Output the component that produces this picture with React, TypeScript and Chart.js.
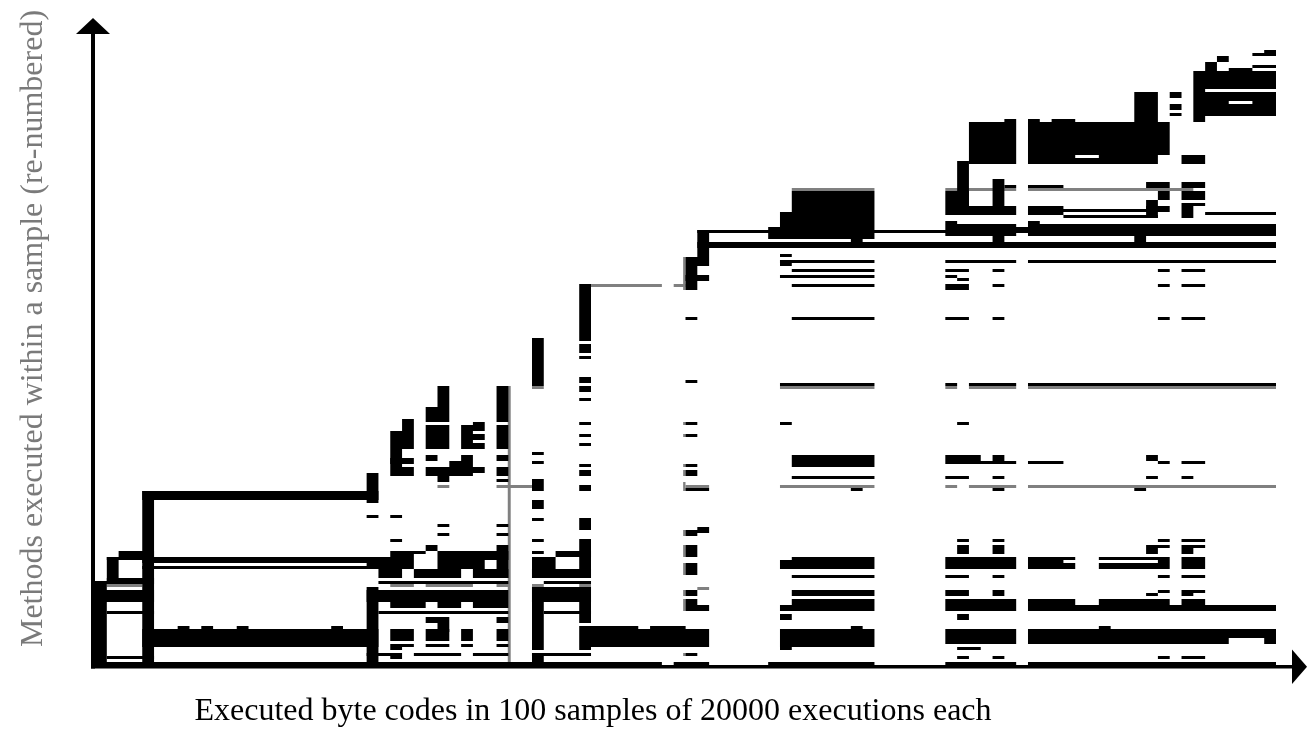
import React, { useEffect, useRef } from 'react';
import { Chart, registerables } from 'chart.js';

Chart.register(...registerables);

// Axis extents: 100 samples (x) and the re-numbered method indices (y).
const SAMPLE_COUNT = 100;
const METHOD_COUNT = 221;

const X_TITLE = 'Executed byte codes in 100 samples of 20000 executions each';
const Y_TITLE = 'Methods executed within a sample (re-numbered)';

// Each entry: [firstSample, endSample, firstMethod, endMethod) - methods executed in those samples.
const executedEarly: number[][] = [
  [0, 1, 0, 28], [1, 2, 28, 36], [1, 5, 35, 36], [2, 5, 36, 38], [0, 5, 27, 28], [1, 5, 28, 29], [0, 5, 21, 25],
  [1, 5, 17, 18], [1, 5, 2, 3],
  [0, 48, 0, 1],
  [4, 5, 1, 58], [4, 24, 55, 58], [23, 24, 54, 64], [4, 24, 34, 36], [4, 24, 32, 33],
  [4, 24, 6, 12], [7, 8, 12, 13], [9, 10, 12, 13], [12, 13, 12, 13], [20, 21, 12, 13],
  [23, 24, 1, 26],
];

const executedCluster: number[][] = [
  [26, 27, 78, 82], [25, 27, 72, 78], [25, 26, 66, 72], [25, 27, 67, 69], [25, 27, 63, 66],
  [29, 30, 86, 93], [28, 30, 81, 86], [28, 30, 72, 80], [28, 29, 68, 70], [28, 33, 64, 66], [28, 32, 63, 64],
  [29, 30, 61, 63], [30, 32, 66, 68], [31, 32, 68, 70],
  [31, 33, 78, 80], [32, 33, 80, 81], [31, 33, 75, 77], [31, 33, 72, 74], [31, 32, 74, 75], [31, 32, 77, 78],
  [34, 35, 81, 93], [34, 35, 72, 80], [34, 35, 68, 70], [34, 35, 63, 66], [34, 35, 61, 62],
  [23, 24, 49, 50], [25, 26, 49, 50], [29, 30, 46, 47], [34, 35, 46, 47], [29, 30, 43, 44], [34, 35, 43, 44],
  [25, 26, 41, 42], [26, 28, 37, 38], [28, 29, 38, 40],
  [34, 35, 29, 40], [25, 27, 36, 38], [23, 27, 32, 36], [29, 33, 32, 35], [29, 35, 35, 38],
  [24, 26, 29, 32], [27, 31, 29, 32], [32, 35, 29, 32], [24, 35, 27, 28],
  [23, 35, 21, 25], [25, 28, 19, 21], [29, 31, 19, 21], [32, 35, 19, 21], [24, 35, 17, 18],
  [28, 30, 14, 16], [29, 30, 11, 14], [34, 35, 14, 16],
  [25, 27, 8, 12], [28, 30, 8, 12], [31, 32, 8, 12], [34, 35, 8, 12],
  [25, 27, 6, 7], [28, 30, 6, 7], [31, 32, 6, 7], [34, 35, 6, 7], [25, 26, 5, 6],
  [23, 26, 3, 4], [27, 31, 3, 4], [32, 35, 3, 4], [25, 26, 2, 3],
  [37, 38, 93, 109], [37, 38, 70, 71], [37, 38, 67, 68], [37, 38, 61, 62], [37, 38, 58, 61], [37, 38, 52, 55],
  [37, 38, 48, 49], [37, 38, 41, 42], [37, 38, 37, 38], [37, 38, 29, 36], [37, 38, 5, 26], [37, 38, 1, 4],
  [39, 42, 36, 38], [37, 39, 32, 36], [37, 42, 29, 32], [38, 42, 27, 28], [37, 42, 21, 26], [38, 42, 17, 18], [37, 42, 3, 4],
  [41, 42, 108, 127], [41, 42, 104, 107], [41, 42, 102, 103], [41, 42, 94, 96], [41, 42, 91, 93], [41, 42, 88, 89],
  [41, 42, 80, 81], [41, 42, 76, 77], [41, 42, 73, 74], [41, 42, 66, 67], [41, 42, 63, 65], [41, 42, 58, 60],
  [41, 42, 45, 49], [41, 42, 29, 42], [41, 42, 14, 26], [41, 42, 5, 6],
  [41, 52, 6, 12], [41, 46, 12, 13], [47, 50, 12, 13],
];

const executedMiddle: number[][] = [
  [49, 52, 0, 1],
  [50, 51, 80, 81], [50, 51, 76, 77], [50, 51, 66, 67], [50, 51, 63, 65], [50, 52, 58, 59],
  [50, 52, 44, 45], [50, 51, 43, 44], [51, 52, 45, 46],
  [50, 51, 37, 40], [50, 51, 36, 37], [50, 51, 30, 34], [50, 51, 23, 25], [50, 52, 18, 20], [50, 51, 20, 22], [50, 51, 3, 4],
  [51, 52, 136, 145], [50, 52, 133, 136], [50, 51, 125, 133], [50, 52, 128, 130], [50, 51, 115, 116], [50, 51, 94, 95],
  [51, 100, 139, 141], [51, 100, 144, 145],
  [58, 66, 146, 151], [59, 66, 151, 158], [57, 66, 142, 146], [64, 65, 140, 142], [58, 59, 136, 137], [58, 59, 133, 134],
  [58, 66, 134, 135], [59, 66, 131, 132], [58, 66, 129, 130], [59, 66, 126, 127], [59, 66, 115, 116], [58, 66, 93, 94],
  [58, 59, 80, 81], [59, 66, 66, 70], [59, 66, 62, 63], [64, 65, 58, 59],
  [58, 66, 32, 35], [59, 66, 35, 36], [59, 66, 29, 30], [59, 66, 23, 25], [58, 66, 18, 20], [59, 66, 20, 22], [58, 59, 15, 17],
  [58, 66, 6, 12], [64, 65, 12, 13], [58, 59, 5, 6], [57, 66, 0, 1],
];

const executedLate: number[][] = [
  [74, 78, 167, 181], [77, 78, 181, 182], [73, 74, 153, 168], [72, 74, 153, 158], [72, 78, 150, 153], [76, 77, 153, 162],
  [77, 78, 159, 160], [72, 73, 147, 148], [72, 78, 143, 147], [76, 77, 141, 143], [77, 79, 145, 146],
  [72, 78, 134, 135], [72, 74, 131, 132], [76, 77, 131, 132], [72, 73, 129, 130], [73, 74, 128, 129], [72, 74, 125, 127],
  [76, 77, 126, 127], [72, 74, 115, 116], [76, 77, 115, 116],
  [72, 73, 93, 94], [74, 78, 93, 94], [73, 74, 80, 81],
  [72, 78, 67, 68], [72, 75, 68, 70], [76, 77, 68, 70], [72, 74, 62, 63], [76, 77, 62, 63], [76, 77, 58, 59],
  [73, 74, 41, 42], [76, 77, 41, 42], [73, 74, 37, 40], [76, 77, 37, 40], [72, 78, 32, 36], [72, 74, 29, 30], [76, 77, 29, 30],
  [72, 74, 23, 25], [76, 77, 23, 25], [72, 78, 18, 22], [73, 74, 15, 17], [72, 78, 7, 12], [73, 75, 5, 6],
  [73, 74, 2, 3], [76, 77, 2, 3], [72, 78, 0, 1],
  [79, 80, 181, 182], [81, 83, 181, 182], [79, 91, 170, 181], [79, 90, 167, 169], [79, 83, 169, 170], [85, 90, 169, 170],
  [88, 90, 181, 191], [91, 92, 189, 191], [91, 92, 185, 187], [91, 92, 183, 184], [92, 94, 167, 170],
  [98, 100, 203, 204], [99, 100, 204, 205], [98, 100, 199, 200], [96, 98, 198, 199], [94, 95, 198, 201], [95, 96, 201, 203],
  [93, 100, 192, 198], [93, 94, 191, 192], [93, 100, 188, 191], [93, 96, 187, 188], [98, 100, 187, 188], [93, 100, 184, 187],
  [93, 100, 183, 184], [93, 94, 181, 183],
  [79, 82, 159, 160], [89, 91, 159, 161], [92, 94, 159, 161], [90, 91, 155, 158], [92, 94, 155, 158], [92, 94, 153, 154],
  [89, 90, 149, 155], [89, 91, 151, 153], [92, 93, 149, 153],
  [79, 82, 150, 153], [79, 90, 151, 152], [82, 90, 149, 150], [94, 100, 150, 151],
  [79, 80, 147, 148], [79, 100, 143, 147], [88, 89, 141, 143],
  [79, 100, 134, 135], [90, 91, 131, 132], [92, 94, 131, 132], [90, 91, 126, 127], [92, 94, 126, 127], [90, 91, 115, 116], [92, 94, 115, 116],
  [79, 100, 93, 94],
  [79, 82, 67, 68], [89, 90, 68, 70], [90, 91, 67, 68], [92, 94, 67, 68], [89, 90, 62, 63], [92, 93, 62, 63], [88, 89, 58, 59],
  [90, 91, 41, 42], [92, 94, 41, 42], [89, 91, 39, 40], [89, 90, 37, 39], [92, 94, 39, 40], [92, 93, 37, 39],
  [79, 83, 32, 34], [79, 82, 34, 35], [79, 83, 35, 36], [85, 91, 32, 34], [85, 91, 35, 36], [90, 91, 34, 35], [92, 94, 32, 36],
  [90, 91, 29, 30], [92, 94, 29, 30], [90, 91, 24, 25], [89, 90, 23, 24], [92, 94, 24, 25], [92, 93, 23, 24],
  [79, 83, 20, 22], [85, 91, 18, 22], [92, 94, 20, 22], [79, 100, 18, 20],
  [85, 86, 12, 13], [79, 100, 9, 12], [79, 96, 7, 9], [99, 100, 7, 9],
  [90, 91, 2, 3], [92, 94, 2, 3], [79, 100, 0, 1],
];

// Partially covered cells (rendered grey in the original bitmap).
const partialCoverage: number[][] = [
  [1, 4, 26, 27], [25, 27, 26, 27], [28, 32, 26, 27], [34, 35, 26, 27], [37, 38, 26, 27], [41, 42, 26, 27], [51, 52, 25, 26],
  [29, 30, 59, 60], [34, 37, 59, 60], [50, 52, 59, 60], [58, 66, 59, 60], [72, 73, 59, 60], [74, 78, 59, 60], [79, 100, 59, 60],
  [37, 38, 92, 93], [58, 66, 92, 93], [72, 73, 92, 93], [74, 78, 92, 93], [79, 100, 92, 93],
  [42, 48, 126, 127], [49, 50, 126, 127],
  [59, 66, 158, 159], [72, 78, 158, 159], [79, 93, 158, 159],
  [34.95, 35.2, 1, 93], [49.8, 50, 125, 136],
  [49.8, 50, 80, 81], [49.8, 50, 76, 77], [49.8, 50, 66, 67], [49.8, 50, 63, 65], [49.8, 50, 58, 61], [49.8, 50, 43, 45],
  [49.8, 50, 36, 40], [49.8, 50, 30, 34], [49.8, 50, 23, 25], [49.8, 50, 18, 22], [49.8, 50, 6, 13], [49.8, 50, 3, 4],
];

type Bar = { x: [number, number]; y: number };

function toBars(blocks: number[][]): Bar[] {
  const out: Bar[] = [];
  for (const [s0, s1, m0, m1] of blocks) {
    for (let m = m0; m < m1; m++) out.push({ x: [s0, s1], y: m + 0.5 });
  }
  return out;
}

const arrowAxes = {
  id: 'arrowAxes',
  afterDraw(chart: any) {
    const { ctx, chartArea: a } = chart;
    ctx.save();
    ctx.fillStyle = '#000';
    // vertical axis with arrow
    ctx.fillRect(a.left - 4, a.top + 31, 4, a.bottom + 3.5 - (a.top + 31));
    ctx.beginPath();
    ctx.moveTo(a.left - 2, a.top + 16);
    ctx.lineTo(a.left - 19, a.top + 32);
    ctx.lineTo(a.left + 15, a.top + 32);
    ctx.closePath();
    ctx.fill();
    // horizontal axis with arrow
    ctx.fillRect(a.left - 4, a.bottom, a.right + 17 - (a.left - 4), 3.5);
    ctx.beginPath();
    ctx.moveTo(a.right + 31, a.bottom + 1.75);
    ctx.lineTo(a.right + 16, a.bottom - 15.5);
    ctx.lineTo(a.right + 16, a.bottom + 19);
    ctx.closePath();
    ctx.fill();
    // titles
    ctx.font = '32px "Liberation Serif", "Times New Roman", serif';
    ctx.textBaseline = 'alphabetic';
    ctx.textAlign = 'center';
    ctx.fillStyle = '#000';
    ctx.fillText(X_TITLE, a.left + 498, a.bottom + 55);
    ctx.translate(a.left - 53, (a.top + a.bottom) / 2 - 5);
    ctx.rotate(-Math.PI / 2);
    ctx.fillStyle = '#7a7a7a';
    ctx.fillText(Y_TITLE, 0, 0);
    ctx.restore();
  },
};

export default function App() {
  const ref = useRef<HTMLCanvasElement | null>(null);

  useEffect(() => {
    if (!ref.current) return;
    const common = {
      grouped: false,
      categoryPercentage: 1,
      barPercentage: 1,
      borderWidth: 0,
      inflateAmount: 0,
    };
    const chart = new Chart(ref.current, {
      type: 'bar',
      data: {
        datasets: [
          {
            label: 'executed',
            data: toBars([...executedEarly, ...executedCluster, ...executedMiddle, ...executedLate]) as any,
            backgroundColor: '#000000',
            ...common,
          },
          {
            label: 'partial',
            data: toBars(partialCoverage) as any,
            backgroundColor: '#808080',
            ...common,
          },
        ],
      },
      options: {
        indexAxis: 'y',
        animation: false,
        responsive: false,
        maintainAspectRatio: false,
        devicePixelRatio: 1,
        events: [],
        layout: { padding: { left: 95, right: 38, top: 2, bottom: 67 } },
        scales: {
          x: { type: 'linear', min: 0, max: SAMPLE_COUNT, display: false },
          y: { type: 'linear', min: 0, max: METHOD_COUNT, display: false, offset: false },
        },
        plugins: { legend: { display: false }, tooltip: { enabled: false } },
      } as any,
      plugins: [arrowAxes],
    });
    return () => chart.destroy();
  }, []);

  return (
    <div style={{ position: 'fixed', left: 0, top: 0, width: 1314, height: 732, background: '#fff' }}>
      <canvas ref={ref} width={1314} height={732} style={{ display: 'block' }} />
    </div>
  );
}
